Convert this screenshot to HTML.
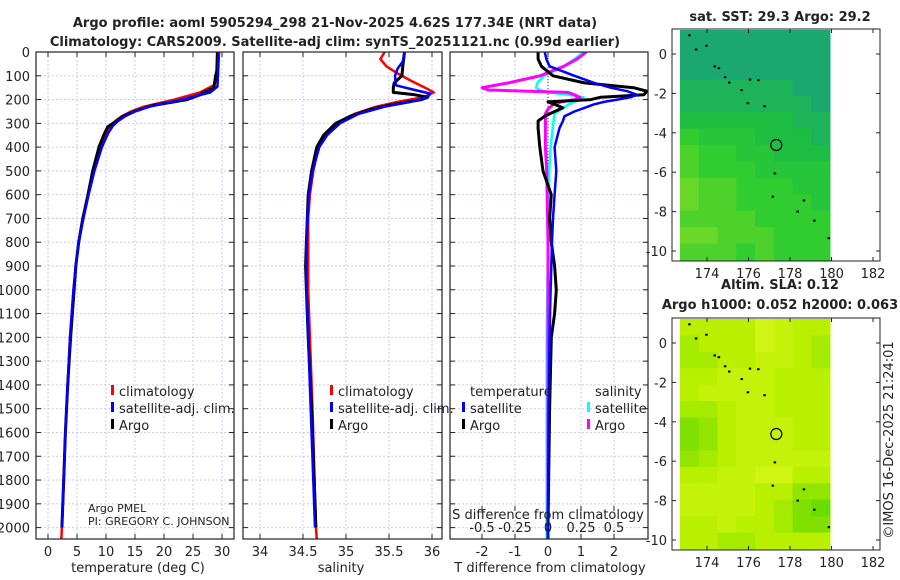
<!DOCTYPE html>
<html><head><meta charset="utf-8">
<style>
body{margin:0;background:#fff;}
svg{display:block;font-family:"DejaVu Sans","Liberation Sans",sans-serif;}
</style></head>
<body>
<svg id="chart" width="900" height="580" viewBox="0 0 900 580" xmlns="http://www.w3.org/2000/svg"></svg>
<script>
// ---------- data ----------
const depthTicks=[0,100,200,300,400,500,600,700,800,900,1000,1100,1200,1300,1400,1500,1600,1700,1800,1900,2000];
const tempTicks=[0,5,10,15,20,25,30];
const salTicks=[34,34.5,35,35.5,36];
const tdiffTicks=[-2,-1,0,1,2];
const sdiffTicks=[-0.5,-0.25,0,0.25,0.5];
const sdiffLabels=["-0.5","-0.25","0","0.25","0.5"];

const tClimDepth=[0,100,140,170,200,230,250,270,290,310,340,400,500,600,700,800,900,1000,1200,1400,1600,1800,2000,2050];
const tClimVals=[29.5,29.3,28.6,26.2,21.8,16.5,14.3,12.7,11.6,10.8,10.0,9.0,7.9,6.9,6.0,5.3,4.8,4.4,3.8,3.4,3.0,2.7,2.4,2.3];
const tSatDepth=[0,100,145,170,200,230,250,270,290,310,340,400,500,600,700,800,900,1000,1200,1400,1600,1800,2000];
const tSatVals=[29.4,29.3,29.2,28.0,23.0,17.5,15.0,13.3,12.1,11.2,10.4,9.3,8.0,7.0,6.1,5.3,4.8,4.4,3.8,3.4,3.0,2.7,2.4];
const tArgoDepth=[0,80,100,150,170,180,200,225,250,270,290,315,350,400,500,600,700,800,900,1000,1200,1400,1600,1800,2000];
const tArgoVals=[29.2,29.1,28.9,28.6,26.8,26.2,24.0,18.0,14.8,13.0,11.8,10.3,9.6,8.8,7.7,6.9,6.0,5.3,4.8,4.5,3.9,3.4,3.0,2.7,2.4];

const sClimDepth=[0,30,60,90,120,150,170,190,210,230,260,300,350,400,500,600,700,800,1000,1200,1500,2000,2050];
const sClimVals=[35.45,35.4,35.47,35.6,35.75,35.92,36.02,35.9,35.6,35.35,35.1,34.9,34.77,34.68,34.62,34.58,34.56,34.56,34.56,34.58,34.61,34.65,34.66];
const sSatDepth=[0,40,70,100,140,160,175,190,210,230,260,300,350,400,500,600,700,800,1000,1200,1500,2000];
const sSatVals=[35.68,35.66,35.6,35.57,35.58,35.8,35.98,35.95,35.75,35.45,35.15,34.93,34.78,34.69,34.61,34.57,34.55,34.54,34.54,34.56,34.59,34.64];
const sArgoDepth=[0,60,100,130,150,170,180,190,200,220,240,270,300,350,400,500,600,700,800,900,1000,1200,1500,2000];
const sArgoVals=[35.68,35.66,35.65,35.56,35.55,35.55,35.8,35.95,35.88,35.55,35.3,35.05,34.88,34.74,34.66,34.6,34.56,34.55,34.54,34.53,34.54,34.56,34.6,34.65];

const tdDepth=[0,30,60,100,130,150,165,180,190,200,210,220,235,250,270,290,320,400,500,600,700,800,900,1000,1100,1200,1500,2000,2050];
const tdArgo=[-0.3,-0.3,-0.2,0.15,1.1,2.6,3.0,2.9,1.6,1.3,0.0,0.2,0.45,0.2,-0.1,-0.3,-0.3,-0.25,-0.15,0.1,0.05,0.1,0.2,0.25,0.2,0.1,0.05,0.0,0.0];
const tdSat=[-0.1,-0.05,0.05,0.8,1.4,1.9,2.4,2.7,2.5,2.1,1.7,1.4,1.1,0.8,0.5,0.45,0.35,0.2,0.25,0.2,0.15,0.12,0.1,0.08,0.06,0.05,0.02,0.0,0.0];
const sdDepth=[0,30,60,100,130,150,160,170,180,190,200,210,220,240,260,300,400,500,800,1200,2000,2050];
const sdSat=[0.27,0.2,0.12,-0.03,-0.08,-0.09,-0.06,0.0,0.15,0.27,0.24,0.2,0.16,0.1,0.05,0.04,0.02,0.01,0.0,-0.01,-0.01,-0.01];
const sdArgo=[0.29,0.22,0.12,-0.06,-0.3,-0.5,-0.45,0.15,0.2,0.24,0.2,0.1,0.04,0.0,-0.02,-0.02,-0.02,-0.01,0.0,0.0,0.0,0.0];

const mapLonTicks=[174,176,178,180,182];
const mapLatTicks=[0,-2,-4,-6,-8,-10];
const sstGrid=["00000000","00000000","00000000","11111100","11111110","22222211","43332221","54433222","54443333","65544433","65544443","55554444","66555444","55545444"];
const slaGrid=["66668766","56668765","55667765","66777666","67777666","55677666","34677766","34677766","45677777","66778866","77776644","77776532","66766533","66556666"];
const islandLon=[173.14,173.46,173.96,174.36,174.56,174.86,175.06,175.66,176.06,176.46,175.96,176.76,177.26,177.16,178.36,178.66,179.16,179.86];
const islandLat=[0.95,0.23,0.42,-0.63,-0.72,-1.18,-1.45,-1.83,-1.3,-1.33,-2.5,-2.65,-6.06,-7.24,-8.0,-7.43,-8.46,-9.35];
const argoLon=177.34, argoLat=-4.62;

// ---------- helpers ----------
const svg=document.getElementById('chart');
const NS='http://www.w3.org/2000/svg';
function mk(tag,attrs,parent){const e=document.createElementNS(NS,tag);for(const k in attrs)e.setAttribute(k,attrs[k]);(parent||svg).appendChild(e);return e;}
function txt(x,y,s,size,anchor,weight,parent){const t=mk('text',{x:x,y:y,'font-size':size,'text-anchor':anchor||'middle','font-weight':weight||'normal',fill:'#222'},parent);t.textContent=s;return t;}

const TOP=52,BOT=539;
const yD=d=>TOP+d*0.2378;
const xT=v=>48+v*5.8;
const xS=v=>260+(v-34)*86;
const xTD=v=>548+v*33;
const xSD=v=>548+v*132;

function panel(name,x0,x1,xTicks,xf){
  const g=mk('g',{});
  
  
  depthTicks.forEach(d=>{mk('line',{x1:x0,x2:x1,y1:yD(d),y2:yD(d),stroke:'#c8cdf0','stroke-width':1,'stroke-dasharray':'2,2'},g);
    mk('line',{x1:x0,x2:x0+5,y1:yD(d),y2:yD(d),stroke:'#222'},g);mk('line',{x1:x1-5,x2:x1,y1:yD(d),y2:yD(d),stroke:'#222'},g);});
  xTicks.forEach(v=>{mk('line',{x1:xf(v),x2:xf(v),y1:TOP,y2:BOT,stroke:'#c8cdf0','stroke-width':1,'stroke-dasharray':'2,2'},g);
    mk('line',{x1:xf(v),x2:xf(v),y1:BOT,y2:BOT-5,stroke:'#222'},g);mk('line',{x1:xf(v),x2:xf(v),y1:TOP,y2:TOP+5,stroke:'#222'},g);});
  return g;
}
function frame(name,x0,x1){const r=mk('rect',{x:x0,y:TOP,width:x1-x0,height:BOT-TOP,fill:'none',stroke:'#222','stroke-width':1.2});
  }
function line(name,depths,vals,xf,color,w,clip){
  const pts=depths.map((d,i)=>xf(vals[i]).toFixed(1)+','+yD(d).toFixed(1)).join(' ');
  const p=mk('polyline',{points:pts,fill:'none',stroke:color,'stroke-width':w,'stroke-linejoin':'round','clip-path':clip?'url(#'+clip+')':''});
  
}
const defs=mk('defs',{});
[['c1',36,234],['c2',243,442],['c3',450,648]].forEach(c=>{const cp=mk('clipPath',{id:c[0]},defs);mk('rect',{x:c[1],y:TOP,width:c[2]-c[1],height:BOT-TOP},cp);});

// titles
let t=txt(335,27,'Argo profile: aoml 5905294_298 21-Nov-2025 4.62S 177.34E (NRT data)',13,'middle','bold');

t=txt(335,46,'Climatology: CARS2009. Satellite-adj clim: synTS_20251121.nc (0.99d earlier)',13,'middle','bold');


// panel 1 temperature
panel('temperature-grid',36,234,tempTicks,xT);
line('temp-climatology',tClimDepth,tClimVals,xT,'#f00',2.5,'c1');
line('temp-argo',tArgoDepth,tArgoVals,xT,'#000',3,'c1');
line('temp-satellite',tSatDepth,tSatVals,xT,'#00f',2.5,'c1');
frame('temperature-axes',36,234);
depthTicks.forEach(d=>{const e=txt(30,yD(d)+5,String(d),13,'end');});
tempTicks.forEach(v=>{const e=txt(xT(v),556,String(v),13);});
t=txt(138,572,'temperature (deg C)',13);
t=txt(88,512,'Argo PMEL',11,'start');
t=txt(88,525,'PI: GREGORY C. JOHNSON',11,'start');

// panel 2 salinity
panel('salinity-grid',243,442,salTicks,xS);
line('sal-climatology',sClimDepth,sClimVals,xS,'#f00',2.5,'c2');
line('sal-argo',sArgoDepth,sArgoVals,xS,'#000',3,'c2');
line('sal-satellite',sSatDepth,sSatVals,xS,'#00f',2.5,'c2');
frame('salinity-axes',243,442);
salTicks.forEach(v=>{const e=txt(xS(v),556,String(v),13);});
t=txt(341,572,'salinity',13);

// legends
function legend(name,x,y,color,label){const g=mk('g',{});
  mk('rect',{x:x,y:y-11,width:3,height:10,fill:color},g);txt(x+8,y,label,13,'start','normal',g);}
[[111,'1'],[330,'2']].forEach(p=>{
  legend('legend-climatology-'+p[1],p[0],396,'#f00','climatology');
  legend('legend-satellite-adj-'+p[1],p[0],413,'#00f','satellite-adj. clim.');
  legend('legend-argo-'+p[1],p[0],430,'#000','Argo');
});

// panel 3 differences
panel('difference-grid',450,648,tdiffTicks,xTD);
sdiffTicks.forEach(v=>{mk('line',{x1:xSD(v),x2:xSD(v),y1:BOT-28,y2:BOT-33,stroke:'#222'});});
mk('line',{x1:548,x2:548,y1:TOP,y2:BOT,stroke:'#333','stroke-width':1,'stroke-dasharray':'1,2'});
line('sdiff-satellite',sdDepth,sdSat,xSD,'#0ff',2.5,'c3');
line('sdiff-argo',sdDepth,sdArgo,xSD,'#f0f',3,'c3');
line('tdiff-argo',tdDepth,tdArgo,xTD,'#000',3,'c3');
line('tdiff-satellite',tdDepth,tdSat,xTD,'#00f',2.5,'c3');
frame('difference-axes',450,648);
tdiffTicks.forEach(v=>{const e=txt(xTD(v),556,String(v),13);});
sdiffTicks.forEach((v,i)=>{const e=txt(xSD(v),532,sdiffLabels[i],13);});
t=txt(548,519,'S difference from climatology',13);
t=txt(550,572,'T difference from climatology',13);
t=txt(470,396,'temperature',13,'start');
t=txt(595,396,'salinity',13,'start');
legend('legend-tdiff-satellite',462,413,'#00f','satellite');
legend('legend-tdiff-argo',462,430,'#000','Argo');
legend('legend-sdiff-satellite',587,413,'#0ff','satellite');
legend('legend-sdiff-argo',587,430,'#f0f','Argo');

// ---------- maps ----------
function lerpColor(stops,v){for(let i=0;i<stops.length-1;i++){const a=stops[i],b=stops[i+1];if(v<=b[0]){const f=(v-a[0])/(b[0]-a[0]);return 'rgb('+[1,2,3].map(k=>Math.round(a[k]+(b[k]-a[k])*f)).join(',')+')';}}const l=stops[stops.length-1];return 'rgb('+l[1]+','+l[2]+','+l[3]+')';}
const sstStops=[[0,26,168,112],[2,30,190,66],[4,48,204,48],[6,106,216,40]];
const slaStops=[[0,60,212,0],[3,128,224,0],[6,184,240,0],[8,208,244,20]];
function map(name,top,grid,stops,title1,title2){
  const bot=top+232, left=672, right=880;
  const lonX=l=>707+(l-174)*20.75;
  const latY=l=>top+25+(-l)*19.7;
  const g=mk('g',{});
  const rows=grid.length, cols=grid[0].length, hx0=680,hx1=830, hy0=top+1, hy1=bot-1;
  const cw=(hx1-hx0)/cols, ch=(hy1-hy0)/rows;
  grid.forEach((row,r)=>{for(let c=0;c<cols;c++){const cell=mk('rect',{x:(hx0+c*cw).toFixed(2),y:(hy0+r*ch).toFixed(2),width:(cw+0.5).toFixed(2),height:(ch+0.5).toFixed(2),fill:lerpColor(stops,+row[c])},g);
    }});
  islandLon.forEach((lo,i)=>{const d=mk('rect',{x:lonX(lo)-1,y:latY(islandLat[i])-1,width:2.5,height:2,fill:'#000'},g);});
  const c=mk('circle',{cx:lonX(argoLon),cy:latY(argoLat),r:5.5,fill:'none',stroke:'#000','stroke-width':1.2},g);
  
  mk('rect',{x:left,y:top,width:right-left,height:bot-top,fill:'none',stroke:'#222','stroke-width':1},g);
  mapLonTicks.forEach(l=>{mk('line',{x1:lonX(l),x2:lonX(l),y1:bot,y2:bot-4,stroke:'#222'},g);mk('line',{x1:lonX(l),x2:lonX(l),y1:top,y2:top+4,stroke:'#222'},g);
    const e=txt(lonX(l),bot+17,String(l),13,'middle','normal',g);});
  mapLatTicks.forEach(l=>{mk('line',{x1:left,x2:left+4,y1:latY(l),y2:latY(l),stroke:'#222'},g);mk('line',{x1:right-4,x2:right,y1:latY(l),y2:latY(l),stroke:'#222'},g);
    const e=txt(left-5,latY(l)+5,String(l),13,'end','normal',g);});
  let e=txt(780,top-(title2?29:8),title1,13,'middle','bold',g);
  if(title2){e=txt(780,top-9,title2,13,'middle','bold',g);}
}
map('sst-map',29,sstGrid,sstStops,'sat. SST: 29.3 Argo: 29.2');
map('sla-map',318,slaGrid,slaStops,'Altim. SLA: 0.12','Argo h1000: 0.052 h2000: 0.063');
t=txt(0,0,'©IMOS 16-Dec-2025 21:24:01',13,'middle');
t.setAttribute('transform','translate(893,440) rotate(-90)');

</script>
</body></html>
